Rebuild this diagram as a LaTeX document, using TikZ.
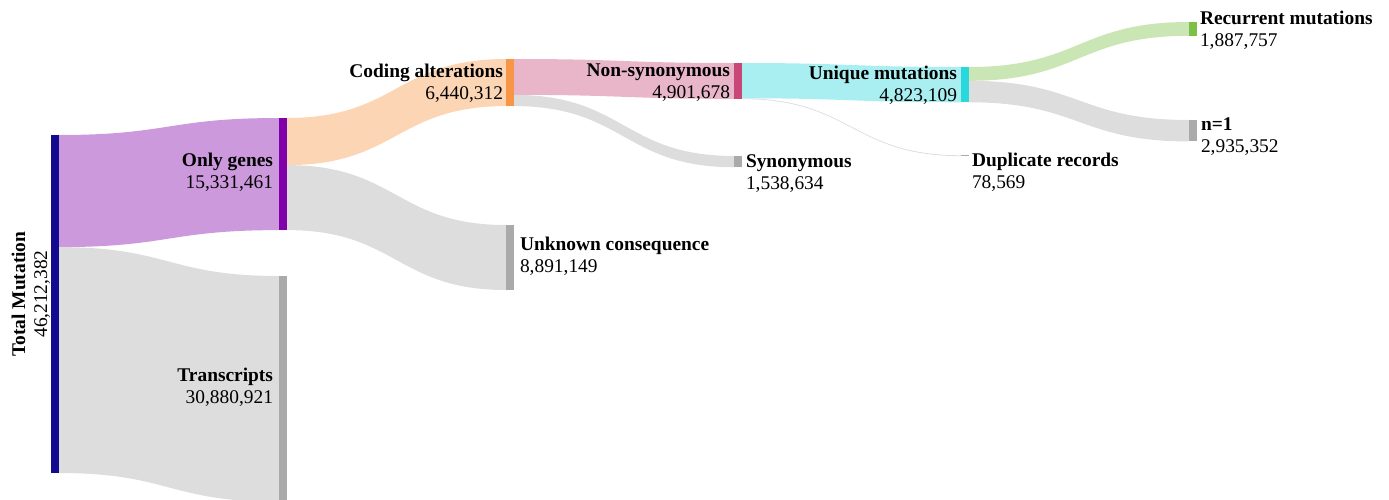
\documentclass[tikz,border=0pt]{standalone}
\usepackage{fontspec}
\setmainfont{Liberation Serif}
\usetikzlibrary{calc}
\pgfdeclarelayer{bg}
\pgfsetlayers{bg,main}
\definecolor{cTotal}{RGB}{18,10,143}
\definecolor{cGenes}{RGB}{128,0,170}
\definecolor{cGray}{RGB}{170,170,170}
\definecolor{cCoding}{RGB}{247,150,70}
\definecolor{cNonsyn}{RGB}{200,70,120}
\definecolor{cUnique}{RGB}{40,216,220}
\definecolor{cRecur}{RGB}{125,192,70}
\tikzset{
  bar/.style={rectangle, draw=none, fill=#1, minimum width=8pt, inner sep=0pt, outer sep=0pt, anchor=north west},
  lbl/.style={inner sep=0pt, outer sep=0pt, font=\fontsize{19.4}{22}\selectfont},
  flow/.style={fill=#1!40!white, draw=none},
}
% #1 colour, #2 source node, #3 offset from source top, #4 target node, #5 offset from target top, #6 width
\newcommand\ribbon[6]{%
  \fill[flow=#1] let \p1=([yshift=-#3pt]#2.north east), \p2=([yshift=-#5pt]#4.north west), \n1={0.5*(\x1+\x2)} in
    (\p1) .. controls (\n1,\y1) and (\n1,\y2) .. (\p2)
    -- (\x2,{\y2-#6pt}) .. controls (\n1,{\y2-#6pt}) and (\n1,{\y1-#6pt}) .. (\x1,{\y1-#6pt}) -- cycle;%
}
\begin{document}
\begin{tikzpicture}[x=1pt,y=-1pt]
\useasboundingbox (0,0) rectangle (1389,499);
% nodes (bars)
\node[bar=cTotal, minimum height=338pt] (total) at (51,135) {};
\node[bar=cGenes, minimum height=112.1pt] (genes) at (279,118) {};
\node[bar=cGray, minimum height=225.9pt] (trans) at (279,276) {};
\node[bar=cCoding, minimum height=47.1pt] (coding) at (506,59) {};
\node[bar=cGray, minimum height=65pt] (unknown) at (506,225) {};
\node[bar=cNonsyn, minimum height=35.85pt] (nonsyn) at (734,63) {};
\node[bar=cGray, minimum height=11.25pt] (syn) at (734,156) {};
\node[bar=cUnique, minimum height=35.28pt] (unique) at (961,67) {};
\node[bar=cGray, minimum height=0.8pt] (dup) at (961,155.3) {};
\node[bar=cRecur, minimum height=13.81pt] (recur) at (1189,22) {};
\node[bar=cGray, minimum height=21.47pt] (none) at (1189,120) {};
% links
\begin{pgfonlayer}{bg}
\ribbon{cGenes}{total}{0}{genes}{0}{112.1}
\ribbon{cGray}{total}{112.1}{trans}{0}{225.9}
\ribbon{cCoding}{genes}{0}{coding}{0}{47.1}
\ribbon{cGray}{genes}{47.1}{unknown}{0}{65}
\ribbon{cNonsyn}{coding}{0}{nonsyn}{0}{35.85}
\ribbon{cGray}{coding}{35.85}{syn}{0}{11.25}
\ribbon{cUnique}{nonsyn}{0}{unique}{0}{35.28}
\ribbon{cGray}{nonsyn}{35.28}{dup}{0}{0.8}
\ribbon{cRecur}{unique}{0}{recur}{0}{13.81}
\ribbon{cGray}{unique}{13.81}{none}{0}{21.47}
\end{pgfonlayer}
% labels
\node[lbl, rotate=90, anchor=base] (totalL) at (25,294) {\begin{tabular}[t]{@{}c@{}}\textbf{Total Mutation}\\46,212,382\end{tabular}};
\node[lbl, anchor=base east] (genesL) at (273,166) {\begin{tabular}[t]{@{}r@{}}\textbf{Only genes}\\15,331,461\end{tabular}};
\node[lbl, anchor=base east] (transL) at (273,381) {\begin{tabular}[t]{@{}r@{}}\textbf{Transcripts}\\30,880,921\end{tabular}};
\node[lbl, anchor=base east] (codingL) at (503,77) {\begin{tabular}[t]{@{}r@{}}\textbf{Coding alterations}\\6,440,312\end{tabular}};
\node[lbl, anchor=base west] (unknownL) at (520,250) {\begin{tabular}[t]{@{}l@{}}\textbf{Unknown consequence}\\8,891,149\end{tabular}};
\node[lbl, anchor=base east] (nonsynL) at (730,76) {\begin{tabular}[t]{@{}r@{}}\textbf{Non-synonymous}\\4,901,678\end{tabular}};
\node[lbl, anchor=base west] (synL) at (746,167) {\begin{tabular}[t]{@{}l@{}}\textbf{Synonymous}\\1,538,634\end{tabular}};
\node[lbl, anchor=base east] (uniqueL) at (957,79) {\begin{tabular}[t]{@{}r@{}}\textbf{Unique mutations}\\4,823,109\end{tabular}};
\node[lbl, anchor=base west] (dupL) at (972,166) {\begin{tabular}[t]{@{}l@{}}\textbf{Duplicate records}\\78,569\end{tabular}};
\node[lbl, anchor=base west] (recurL) at (1200,24) {\begin{tabular}[t]{@{}l@{}}\textbf{Recurrent mutations}\\1,887,757\end{tabular}};
\node[lbl, anchor=base west] (noneL) at (1201,130) {\begin{tabular}[t]{@{}l@{}}\textbf{n=1}\\2,935,352\end{tabular}};
\end{tikzpicture}
\end{document}
